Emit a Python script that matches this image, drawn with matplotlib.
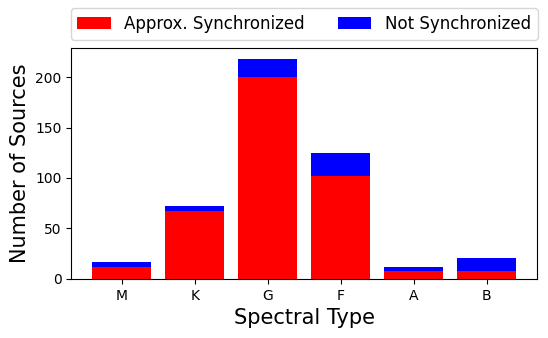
import matplotlib
matplotlib.use('Agg')
import matplotlib.pyplot as plt

# spectral types and source counts
types = ['M', 'K', 'G', 'F', 'A', 'B']
synced = [12, 67, 200, 102, 8, 8]
not_synced = [5, 5, 18, 23, 4, 13]

fig = plt.figure(figsize=(5.48, 3.38), dpi=100)
ax = fig.add_axes([0.13, 0.175, 0.85, 0.683])

ax.bar(types, synced, color='red', label='Approx. Synchronized')
ax.bar(types, not_synced, bottom=synced, color='blue', label='Not Synchronized')

ax.set_xlabel('Spectral Type', fontsize=15)
ax.set_ylabel('Number of Sources', fontsize=15)
ax.legend(ncol=2, fontsize=12, loc='lower center', bbox_to_anchor=(0.5, 1.0))

fig.savefig('out.png')
